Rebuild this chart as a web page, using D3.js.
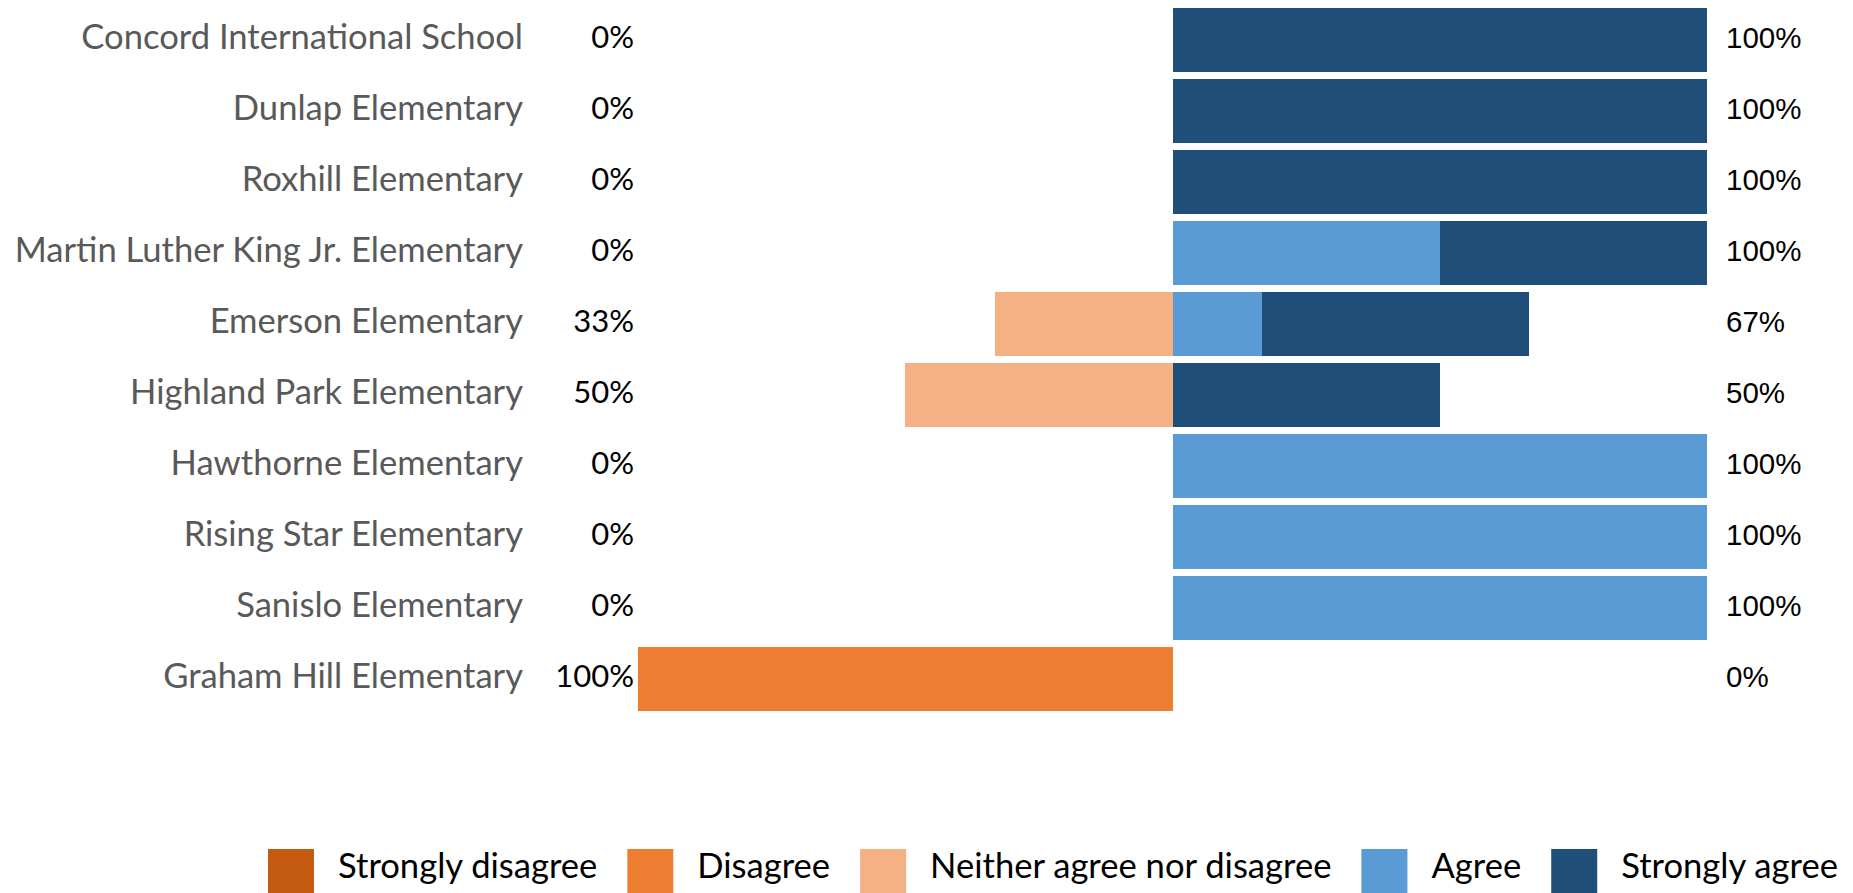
<!DOCTYPE html>
<html>
<head>
<meta charset="utf-8">
<script src="https://cdn.jsdelivr.net/npm/d3@7"></script>
<style>
  html, body { margin: 0; padding: 0; background: #fff; overflow: hidden; }
</style>
</head>
<body>
<svg id="chart" width="1853" height="893"></svg>
<script>
// Survey responses per school (percent of respondents)
const schools = [
  "Concord International School",
  "Dunlap Elementary",
  "Roxhill Elementary",
  "Martin Luther King Jr. Elementary",
  "Emerson Elementary",
  "Highland Park Elementary",
  "Hawthorne Elementary",
  "Rising Star Elementary",
  "Sanislo Elementary",
  "Graham Hill Elementary"
];
const strongDisagree = [0, 0, 0, 0, 0, 0, 0, 0, 0, 0];
const disagree       = [0, 0, 0, 0, 0, 0, 0, 0, 0, 100];
const neither        = [0, 0, 0, 0, 33.3, 50, 0, 0, 0, 0];
const agree          = [0, 0, 0, 50, 16.7, 0, 100, 100, 100, 0];
const strongAgree    = [100, 100, 100, 50, 50, 50, 0, 0, 0, 0];

const responses = ["Strongly disagree", "Disagree", "Neither agree nor disagree", "Agree", "Strongly agree"];
const responseColors = ["#C55A11", "#ED7D31", "#F4B183", "#5B9BD5", "#1F4E79"];

const labelFont = "Lato, 'Open Sans', sans-serif";
const numberFont = "'Liberation Sans', Arial, sans-serif";

const svg = d3.select("#chart");

// Diverging axis: negative responses to the left of zero, positive to the right
const x = d3.scaleLinear().domain([-100, 100]).range([638, 1707]);
const y = d3.scaleBand()
  .domain(schools)
  .range([4.5, 714.5])
  .paddingInner(7 / 71)
  .paddingOuter(3.5 / 71);

// Stack segments outward from zero on each side
const segments = [];
schools.forEach((s, i) => {
  const neg = [
    { key: 2, v: neither[i] },
    { key: 1, v: disagree[i] },
    { key: 0, v: strongDisagree[i] }
  ];
  let acc = 0;
  neg.forEach(d => {
    if (d.v > 0) segments.push({ school: s, key: d.key, x0: -(acc + d.v), x1: -acc });
    acc += d.v;
  });
  const pos = [
    { key: 3, v: agree[i] },
    { key: 4, v: strongAgree[i] }
  ];
  acc = 0;
  pos.forEach(d => {
    if (d.v > 0) segments.push({ school: s, key: d.key, x0: acc, x1: acc + d.v });
    acc += d.v;
  });
});

svg.append("g")
  .attr("shape-rendering", "crispEdges")
  .selectAll("rect")
  .data(segments)
  .join("rect")
  .attr("x", d => x(d.x0))
  .attr("width", d => x(d.x1) - x(d.x0))
  .attr("y", d => y(d.school))
  .attr("height", y.bandwidth())
  .attr("fill", d => responseColors[d.key]);

const mid = s => y(s) + y.bandwidth() / 2;

// School names
svg.append("g")
  .selectAll("text")
  .data(schools)
  .join("text")
  .attr("x", 523)
  .attr("y", d => mid(d) + 8.5)
  .attr("text-anchor", "end")
  .attr("font-family", labelFont)
  .attr("font-size", 34.6)
  .attr("fill", "#595959")
  .text(d => d);

const pct = v => Math.round(v) + "%";

// Total disagreement / neutral share on the left
svg.append("g")
  .selectAll("text")
  .data(schools)
  .join("text")
  .attr("x", 634)
  .attr("y", d => mid(d) + 7.5)
  .attr("text-anchor", "end")
  .attr("font-family", labelFont)
  .attr("font-size", 31)
  .attr("fill", "#000")
  .text((d, i) => pct(strongDisagree[i] + disagree[i] + neither[i]));

// Total agreement share on the right
svg.append("g")
  .selectAll("text")
  .data(schools)
  .join("text")
  .attr("x", 1726)
  .attr("y", d => mid(d) + 7.5)
  .attr("text-anchor", "start")
  .attr("font-family", numberFont)
  .attr("font-size", 29.5)
  .attr("fill", "#000")
  .text((d, i) => pct(agree[i] + strongAgree[i]));

// Legend along the bottom edge
const legend = svg.append("g");
const swatch = 46, swatchToText = 70, itemGap = 30;
let lx = 268;
responses.forEach((r, i) => {
  legend.append("rect")
    .attr("x", lx)
    .attr("y", 849)
    .attr("width", swatch)
    .attr("height", swatch)
    .attr("fill", responseColors[i]);
  const t = legend.append("text")
    .attr("x", lx + swatchToText)
    .attr("y", 878)
    .attr("font-family", labelFont)
    .attr("font-size", 34.6)
    .attr("fill", "#000")
    .text(r);
  lx += swatchToText + t.node().getComputedTextLength() + itemGap;
});
</script>
</body>
</html>
